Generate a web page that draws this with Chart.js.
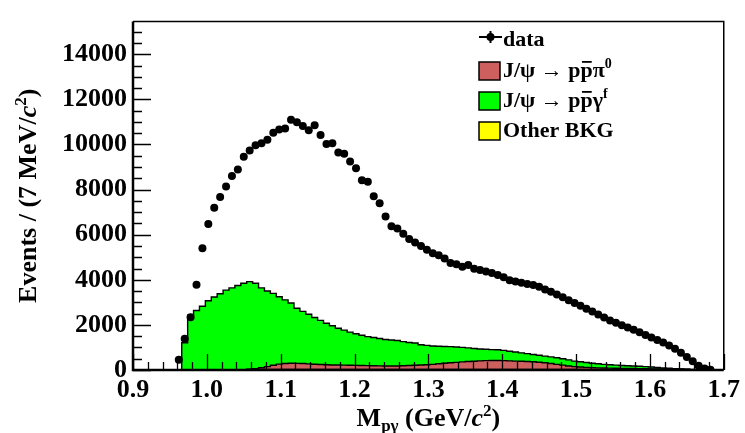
<!DOCTYPE html>
<html lang="en">
<head>
  <meta charset="UTF-8" />
  <title>M(p gamma) distribution</title>
  <script src="https://cdn.jsdelivr.net/npm/chart.js"></script>
  <style>
    * { margin: 0; padding: 0; box-sizing: border-box; }
    html, body { background: #fff; width: 745px; height: 433px; overflow: hidden; }
  </style>
</head>
<body>
  <canvas id="mpg" width="745" height="433"></canvas>

  <script>
    // binning (GeV/c^2)
    const BIN_LO = 0.958, BIN_W = 0.008;

    // data points, one per bin
    const dataEvents = [
      458, 1385, 2340, 3780, 5400, 6470, 7190, 7670, 8140, 8600,
      8890, 9460, 9730, 9970, 10060, 10210, 10520, 10660, 10710, 11100,
      10990, 10820, 10630, 10850, 10420, 10020, 10050, 9640, 9590, 9250,
      8950, 8420, 8350, 7710, 7400, 6810, 6380, 6280, 6040, 5810,
      5650, 5500, 5330, 5180, 5090, 4940, 4750, 4690, 4580, 4660,
      4490, 4430, 4370, 4300, 4210, 4110, 3980, 3920, 3870, 3810,
      3770, 3690, 3570, 3470, 3350, 3230, 3090, 2970, 2850, 2720,
      2590, 2460, 2330, 2200, 2100, 1990, 1880, 1780, 1670, 1550,
      1440, 1330, 1220, 1090, 940, 770, 580, 385, 190, 65,
      15
    ];

    // Other BKG (bottom of stack)
    const bkgOther = [
      0, 0, 0, 0, 0, 0, 0, 0, 0, 0,
      0, 0, 20, 20, 20, 20, 20, 20, 20, 20,
      20, 20, 20, 20, 20, 20, 20, 20, 20, 20,
      20, 20, 20, 20, 20, 20, 20, 20, 20, 20,
      20, 20, 20, 20, 20, 20, 20, 20, 20, 20,
      20, 20, 20, 20, 20, 20, 20, 20, 20, 20,
      20, 20, 20, 20, 20, 20, 20, 20, 20, 20,
      20, 20, 20, 20, 20, 20, 20, 20, 20, 20,
      20, 20, 20, 20, 20, 20, 20, 10, 5, 0,
      0
    ];

    // J/psi -> p pbar pi0
    const bkgPi0 = [
      0, 0, 0, 0, 0, 0, 0, 0, 0, 0,
      0, 0, 10, 40, 80, 130, 190, 240, 270, 280,
      275, 265, 250, 235, 225, 215, 205, 200, 195, 190,
      185, 180, 175, 170, 165, 160, 160, 160, 170, 180,
      190, 200, 215, 230, 255, 280, 300, 320, 340, 355,
      370, 385, 395, 400, 400, 395, 385, 375, 365, 355,
      345, 325, 300, 270, 230, 195, 160, 130, 110, 95,
      85, 75, 68, 62, 57, 52, 48, 44, 40, 36,
      32, 28, 24, 20, 16, 12, 8, 5, 2, 0,
      0
    ];

    // J/psi -> p pbar gamma^f
    const bkgGammaF = [
      0, 1210, 2430, 2640, 2825, 3070, 3240, 3380, 3540, 3640,
      3750, 3850, 3890, 3790, 3540, 3350, 3190, 2990, 2820, 2670,
      2445, 2315, 2200, 2075, 1955, 1835, 1735, 1630, 1555, 1470,
      1405, 1340, 1285, 1250, 1215, 1170, 1150, 1130, 1070, 1020,
      990, 900, 855, 815, 780, 745, 715, 680, 645, 605,
      565, 525, 505, 485, 475, 455, 425, 405, 375, 350,
      325, 310, 295, 290, 290, 285, 270, 245, 235, 215,
      195, 180, 162, 148, 138, 128, 120, 112, 105, 94,
      78, 62, 46, 35, 24, 13, 2, 5, 3, 0,
      0
    ];

    const xTicks = [0.9, 1.0, 1.1, 1.2, 1.3, 1.4, 1.5, 1.6, 1.7];
    const yTicks = [0, 2000, 4000, 6000, 8000, 10000, 12000, 14000];

    const SERIF = '"Liberation Serif", "DejaVu Serif", serif';
    const F_AXIS = `bold 26px ${SERIF}`;
    const F_ITAL = `italic bold 26px ${SERIF}`;
    const F_SMALL = `bold 17px ${SERIF}`;
    const F_LEG = `bold 22px ${SERIF}`;
    const F_LEG_SUP = `bold 14px ${SERIF}`;

    const RED = '#cd5f5f', GREEN = '#00ff00', YELLOW = '#ffff00';

    const N = dataEvents.length;
    const edges = [];
    for (let i = 0; i <= N; i++) edges.push(+(BIN_LO + i * BIN_W).toFixed(4));
    const centers = edges.slice(0, N).map(e => +(e + BIN_W / 2).toFixed(4));
    const histPoints = vals => vals.map((v, i) => ({ x: edges[i], y: v })).concat([{ x: edges[N], y: 0 }]);

    function richWidth(ctx, parts) {
      let w = 0;
      for (const p of parts) { ctx.font = p.f; w += ctx.measureText(p.t).width; }
      return w;
    }
    function richText(ctx, x, y, parts) {
      for (const p of parts) {
        ctx.font = p.f;
        ctx.fillText(p.t, x, y + (p.dy || 0));
        const w = ctx.measureText(p.t).width;
        if (p.bar) ctx.fillRect(x + 1.5, y - p.bar, w - 2.5, 1.8);
        x += w;
      }
      return x;
    }

    // horizontal (bin width) error bars under the data markers
    const dataBars = {
      id: 'dataBars',
      beforeDatasetDraw(chart, args) {
        if (args.index !== 0) return;
        const { ctx, scales: { x, y } } = chart;
        ctx.save();
        ctx.strokeStyle = '#000';
        ctx.lineWidth = 2;
        ctx.beginPath();
        dataEvents.forEach((v, i) => {
          const py = y.getPixelForValue(v);
          ctx.moveTo(x.getPixelForValue(edges[i]), py);
          ctx.lineTo(x.getPixelForValue(edges[i + 1]), py);
        });
        ctx.stroke();
        ctx.restore();
      }
    };

    // ROOT-like frame with inward ticks
    const frameTicks = {
      id: 'frameTicks',
      afterDatasetsDraw(chart) {
        const { ctx, chartArea: a, scales: { x, y } } = chart;
        ctx.save();
        ctx.strokeStyle = '#000';
        ctx.lineWidth = 1.3;
        ctx.beginPath();
        for (let k = 0; k <= 30; k++) {
          const py = Math.round(y.getPixelForValue(k * 500)) + 0.5;
          const len = k % 4 === 0 ? 18 : 9;
          ctx.moveTo(a.left, py); ctx.lineTo(a.left + len, py);
        }
        for (let k = 0; k <= 40; k++) {
          const px = Math.round(x.getPixelForValue(0.9 + k * 0.02)) + 0.5;
          const len = k % 5 === 0 ? 16 : 8;
          ctx.moveTo(px, a.bottom); ctx.lineTo(px, a.bottom - len);
        }
        ctx.stroke();
        ctx.lineWidth = 1.5;
        ctx.beginPath();
        ctx.moveTo(a.left, a.top); ctx.lineTo(a.right, a.top); ctx.lineTo(a.right, a.bottom);
        ctx.stroke();
        ctx.lineWidth = 2.5;
        ctx.beginPath();
        ctx.moveTo(a.left, a.top); ctx.lineTo(a.left, a.bottom); ctx.lineTo(a.right, a.bottom);
        ctx.stroke();
        ctx.restore();
      }
    };

    const titlesLegend = {
      id: 'titlesLegend',
      afterDraw(chart) {
        const { ctx, chartArea: a } = chart;
        ctx.save();
        ctx.fillStyle = '#000';
        ctx.textBaseline = 'alphabetic';
        ctx.textAlign = 'left';

        const xParts = [
          { t: 'M', f: F_AXIS },
          { t: 'pγ', f: F_SMALL, dy: 5 },
          { t: ' (GeV/', f: F_AXIS },
          { t: 'c', f: F_ITAL },
          { t: '2', f: F_SMALL, dy: -10 },
          { t: ')', f: F_AXIS }
        ];
        const xw = richWidth(ctx, xParts);
        richText(ctx, (a.left + a.right) / 2 - xw / 2, 426, xParts);

        const yParts = [
          { t: 'Events / (7 MeV/', f: F_AXIS },
          { t: 'c', f: F_ITAL },
          { t: '2', f: F_SMALL, dy: -10 },
          { t: ')', f: F_AXIS }
        ];
        const yw = richWidth(ctx, yParts);
        ctx.save();
        ctx.translate(36, (a.top + a.bottom) / 2);
        ctx.rotate(-Math.PI / 2);
        richText(ctx, -yw / 2, 0, yParts);
        ctx.restore();

        // legend
        const lx = 479, tx = 503;
        ctx.strokeStyle = '#000';
        ctx.lineWidth = 2;
        ctx.beginPath();
        ctx.moveTo(lx, 37); ctx.lineTo(lx + 23, 37);
        ctx.moveTo(lx + 11.5, 31); ctx.lineTo(lx + 11.5, 43);
        ctx.stroke();
        ctx.beginPath();
        ctx.arc(lx + 11.5, 37, 4, 0, Math.PI * 2);
        ctx.fill();
        richText(ctx, tx, 46, [{ t: 'data', f: F_LEG }]);

        const boxes = [
          { c: RED, base: 77, parts: [
            { t: 'J/ψ → p', f: F_LEG }, { t: 'p', f: F_LEG, bar: 16 }, { t: 'π', f: F_LEG },
            { t: '0', f: F_LEG_SUP, dy: -9 } ] },
          { c: GREEN, base: 107, parts: [
            { t: 'J/ψ → p', f: F_LEG }, { t: 'p', f: F_LEG, bar: 16 }, { t: 'γ', f: F_LEG },
            { t: 'f', f: F_LEG_SUP, dy: -9 } ] },
          { c: YELLOW, base: 137, parts: [{ t: 'Other BKG', f: F_LEG }] }
        ];
        ctx.lineWidth = 1.5;
        for (const b of boxes) {
          ctx.fillStyle = b.c;
          ctx.fillRect(lx, b.base - 15, 21, 18);
          ctx.strokeRect(lx, b.base - 15, 21, 18);
          ctx.fillStyle = '#000';
          richText(ctx, tx, b.base, b.parts);
        }
        ctx.restore();
      }
    };

    const histStyle = { stepped: true, fill: 'origin', borderColor: '#000', borderWidth: 1.4, pointRadius: 0, stack: 'mc' };

    new Chart(document.getElementById('mpg'), {
      type: 'line',
      data: {
        datasets: [
          { label: 'data', data: centers.map((c, i) => ({ x: c, y: dataEvents[i] })), showLine: false,
            pointRadius: 4, pointBackgroundColor: '#000', pointBorderWidth: 0, borderColor: '#000',
            stack: 'data', order: 0 },
          { label: 'Other BKG', data: histPoints(bkgOther), backgroundColor: YELLOW, order: 1, ...histStyle },
          { label: 'J/psi -> p pbar pi0', data: histPoints(bkgPi0), backgroundColor: RED, order: 2, ...histStyle },
          { label: 'J/psi -> p pbar gamma^f', data: histPoints(bkgGammaF), backgroundColor: GREEN, order: 3, ...histStyle }
        ]
      },
      options: {
        responsive: false,
        animation: false,
        layout: { padding: { top: 9, right: 16, left: 0, bottom: 0 } },
        plugins: { legend: { display: false }, tooltip: { enabled: false } },
        scales: {
          x: {
            type: 'linear', min: 0.9, max: 1.7,
            afterFit: s => { s.height = 63; },
            afterBuildTicks: s => { s.ticks = xTicks.map(v => ({ value: v })); },
            grid: { display: false, drawTicks: false },
            border: { display: false },
            ticks: { color: '#000', font: { family: SERIF, size: 26, weight: 'bold' }, padding: 5,
              maxRotation: 0, autoSkip: false, callback: v => Number(v).toFixed(1) }
          },
          y: {
            stacked: true, min: 0, max: 15450,
            afterFit: s => { s.width = 133; },
            afterBuildTicks: s => { s.ticks = yTicks.map(v => ({ value: v })); },
            grid: { display: false, drawTicks: false },
            border: { display: false },
            ticks: { color: '#000', font: { family: SERIF, size: 26, weight: 'bold' }, padding: 6,
              autoSkip: false, callback: v => String(v) }
          }
        }
      },
      plugins: [dataBars, frameTicks, titlesLegend]
    });
  </script>
</body>
</html>
